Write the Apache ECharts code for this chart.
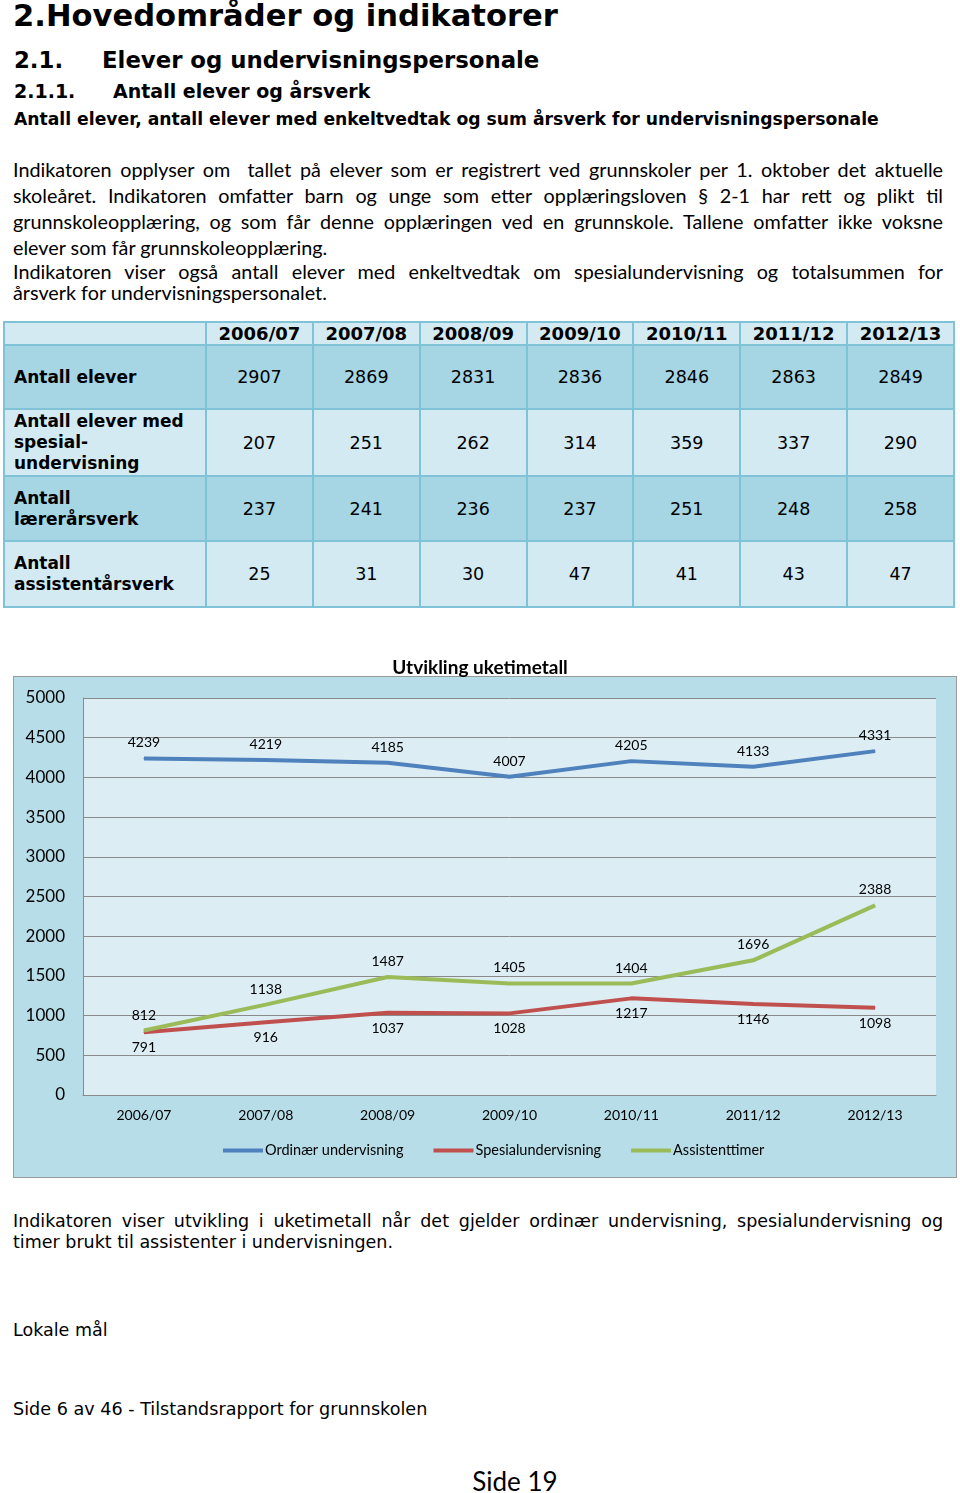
<!DOCTYPE html>
<html><head><meta charset="utf-8">
<script src="https://cdn.jsdelivr.net/npm/echarts@6/dist/echarts.min.js"></script>
<style>
html,body{margin:0;padding:0;background:#fff;}
body{width:960px;height:1493px;position:relative;overflow:hidden;color:#000;}
.t{position:absolute;white-space:nowrap;}
.v{font-family:"DejaVu Sans",Verdana,sans-serif;}
.c{font-family:Lato,"Open Sans",sans-serif;}
.b{font-weight:bold;}
.j{text-align:justify;text-align-last:justify;white-space:normal;}
table{position:absolute;left:3px;top:321px;width:952px;border-collapse:collapse;table-layout:fixed;font-family:"DejaVu Sans",Verdana,sans-serif;}
td,th{border:2px solid #80c3d6;padding:0;text-align:center;font-size:17.5px;}
th{font-size:18px;font-weight:bold;background:#d3eaf2;height:21px;}
td.lab{text-align:left;font-weight:bold;font-size:17px;padding-left:9px;line-height:21px;}
tr.dk td{background:#a6d5e3;}
tr.lt td{background:#d3eaf2;}
#box{position:absolute;left:13px;top:676px;width:942px;height:500px;background:#b7dde8;border:1px solid #9a9a9a;}
#chart{position:absolute;left:0;top:640px;width:960px;height:550px;}
</style></head>
<body>
<div class="t v b" style="left:13px;top:-3px;font-size:30.6px;line-height:38px;">2.Hovedområder og indikatorer</div>
<div class="t v b" style="left:14px;top:46px;font-size:22.8px;line-height:28px;">2.1.</div>
<div class="t v b" style="left:102px;top:46px;font-size:22.8px;line-height:28px;">Elever og undervisningspersonale</div>
<div class="t v b" style="left:14px;top:79px;font-size:19px;line-height:24px;">2.1.1.</div>
<div class="t v b" style="left:113px;top:79px;font-size:19px;line-height:24px;">Antall elever og årsverk</div>
<div class="t v b" style="left:14px;top:108px;font-size:17.2px;line-height:22px;">Antall elever, antall elever med enkeltvedtak og sum årsverk for undervisningspersonale</div>

<div class="t c j" style="left:13px;top:156px;width:930px;font-size:19.8px;line-height:26px;">Indikatoren opplyser om&nbsp; tallet på elever som er registrert ved grunnskoler per 1. oktober det aktuelle</div>
<div class="t c j" style="left:13px;top:182px;width:930px;font-size:19.8px;line-height:26px;">skoleåret. Indikatoren omfatter barn og unge som etter opplæringsloven § 2-1 har rett og plikt til</div>
<div class="t c j" style="left:13px;top:208px;width:930px;font-size:19.8px;line-height:26px;">grunnskoleopplæring, og som får denne opplæringen ved en grunnskole. Tallene omfatter ikke voksne</div>
<div class="t c" style="left:13px;top:234px;font-size:19.8px;line-height:26px;">elever som får grunnskoleopplæring.</div>
<div class="t c j" style="left:13px;top:258px;width:930px;font-size:19.8px;line-height:26px;">Indikatoren viser også antall elever med enkeltvedtak om spesialundervisning og totalsummen for</div>
<div class="t c" style="left:13px;top:279px;font-size:19.8px;line-height:26px;">årsverk for undervisningspersonalet.</div>

<table id="tbl"></table>

<div id="box"></div>
<div id="chart"></div>

<div class="t v j" style="left:13px;top:1209px;width:930px;font-size:17.5px;line-height:24px;">Indikatoren viser utvikling i uketimetall når det gjelder ordinær undervisning, spesialundervisning og</div>
<div class="t v" style="left:13px;top:1230px;font-size:17.5px;line-height:24px;">timer brukt til assistenter i undervisningen.</div>
<div class="t v" style="left:13px;top:1318px;font-size:17.5px;line-height:24px;">Lokale mål</div>
<div class="t v" style="left:13px;top:1397px;font-size:17.6px;line-height:24px;">Side 6 av 46 - Tilstandsrapport for grunnskolen</div>
<div class="t c" style="left:0;width:1030px;text-align:center;top:1465px;font-size:26px;line-height:32px;">Side 19</div>

<script>
// ---- data ----
const years = ['2006/07','2007/08','2008/09','2009/10','2010/11','2011/12','2012/13'];
const rowLabels = ['Antall elever','Antall elever med<br>spesial-<br>undervisning','Antall<br>lærerårsverk','Antall<br>assistentårsverk'];
const antallElever = [2907,2869,2831,2836,2846,2863,2849];
const spesialElever = [207,251,262,314,359,337,290];
const laererAarsverk = [237,241,236,237,251,248,258];
const assistentAarsverk = [25,31,30,47,41,43,47];

const ordinaer = [4239,4219,4185,4007,4205,4133,4331];
const spesial = [791,916,1037,1028,1217,1146,1098];
const assistent = [812,1138,1487,1405,1404,1696,2388];
const seriesNames = ['Ordinær undervisning','Spesialundervisning','Assistenttimer'];

// ---- table ----
const tbl = document.getElementById('tbl');
let html = '<colgroup><col style="width:202px">' + years.map(()=>'<col>').join('') + '</colgroup>';
html += '<tr><th></th>' + years.map(y=>'<th>'+y+'</th>').join('') + '</tr>';
const rows = [antallElever, spesialElever, laererAarsverk, assistentAarsverk];
const heights = [64,67,65,66];
rows.forEach((r,i)=>{
  html += '<tr class="'+(i%2===0?'dk':'lt')+'" style="height:'+heights[i]+'px"><td class="lab">'+rowLabels[i]+'</td>' + r.map(v=>'<td>'+v+'</td>').join('') + '</tr>';
});
tbl.innerHTML = html;

// ---- chart ----
const chart = echarts.init(document.getElementById('chart'), null, {renderer:'canvas'});
const F = 'Lato, "Open Sans", sans-serif';
function mk(name, data, color, pos, dist){
  return {name, type:'line', data, symbol:'circle', symbolSize:1, showSymbol:true,
    lineStyle:{color, width:4}, itemStyle:{color},
    label:{show:true, position:pos, distance:dist, color:'#000', fontFamily:F, fontSize:14},
    emphasis:{disabled:true}, animation:false};
}
chart.setOption({
  animation:false,
  title:{text:'Utvikling uketimetall', left:'center', top:13,
    textStyle:{fontFamily:F, fontSize:19, fontWeight:'bold', color:'#000'}},
  legend:{bottom:27, left:218, itemWidth:40, itemHeight:4, itemGap:30,
    icon:'rect', textStyle:{fontFamily:F, fontSize:14.5, color:'#000', padding:[0,0,0,-3]},
    data:seriesNames},
  grid:{left:83, right:24, top:58, bottom:95, show:true, backgroundColor:'#dcedf4', borderWidth:0},
  xAxis:{type:'category', data:years, boundaryGap:true,
    axisLine:{show:true, lineStyle:{color:'#8a8a8a', width:1}}, axisTick:{show:false},
    axisLabel:{color:'#000', fontFamily:F, fontSize:14, margin:13}},
  yAxis:{type:'value', min:0, max:5000, interval:500,
    axisLine:{show:true, lineStyle:{color:'#8a8a8a', width:1}}, axisTick:{show:false},
    splitLine:{lineStyle:{color:'#8a8a8a', width:1}},
    axisLabel:{color:'#000', fontFamily:F, fontSize:17, margin:18, formatter: v => String(v)}},
  series:[
    mk(seriesNames[0], ordinaer, '#4f81bd', 'top', 8),
    mk(seriesNames[1], spesial, '#c0504d', 'bottom', 8),
    mk(seriesNames[2], assistent, '#9bbb59', 'top', 8)
  ]
});
</script>
</body></html>
